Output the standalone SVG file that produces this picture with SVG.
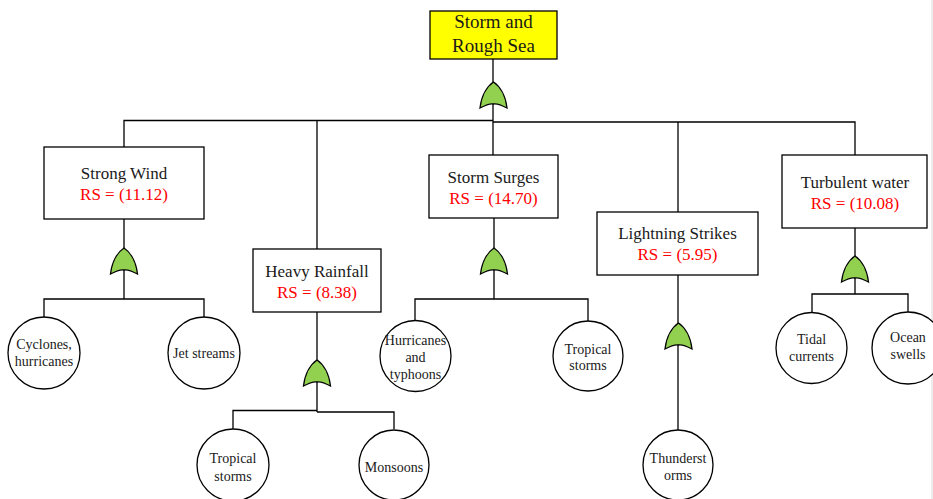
<svg xmlns="http://www.w3.org/2000/svg" xmlns:xlink="http://www.w3.org/1999/xlink" width="933" height="499" viewBox="0 0 933 499">
  <style>
    .box { fill: #ffffff; stroke: #000000; stroke-width: 1.3; }
    .top { fill: #ffff00; stroke: #000000; stroke-width: 1.3; }
    .ev { fill: #ffffff; stroke: #000000; stroke-width: 1.3; }
    .wire { fill: none; stroke: #000000; stroke-width: 1.3; }
    text { font-family: "Liberation Serif", "Times New Roman", serif; text-anchor: middle; fill: #1a1a1a; }
    .t19 { font-size: 19px; }
    .t17 { font-size: 17px; }
    .rs { font-size: 17px; fill: #ff0000; }
    .t14 { font-size: 14px; }
  </style>
  <defs>
    <!-- OR gate, origin at the apex -->
    <path id="orgate" d="M0,0 C6,4 12,13 13.5,26 Q4,21 0,22 Q-4,21 -13.5,26 C-12,13 -6,4 0,0 Z" fill="#92d050" stroke="#000000" stroke-width="1.3"/>
  </defs>

  <rect x="0" y="0" width="933" height="499" fill="#ffffff"/>
  <rect x="931" y="0" width="2" height="499" fill="#ececec"/>

  <g id="connectors">
    <!-- top event to bus -->
    <path class="wire" d="M493,59 V121"/>
    <path class="wire" d="M124,147 V120.5 H493 M493,122 H855 V155"/>
    <path class="wire" d="M317,121 V249"/>
    <path class="wire" d="M678,122 V212"/>
    <path class="wire" d="M493,121 V155"/>
    <!-- Strong Wind -->
    <path class="wire" d="M124,219 V299 M44,317 V299 H204 V317"/>
    <!-- Heavy Rainfall -->
    <path class="wire" d="M317,312 V412 M233,429 V410.5 H317 M317,412 H394 V429"/>
    <!-- Storm Surges -->
    <path class="wire" d="M494,218 V299 M415,321 V299 H588 V321"/>
    <!-- Lightning Strikes -->
    <path class="wire" d="M678,275 V430"/>
    <!-- Turbulent water -->
    <path class="wire" d="M855,228 V294 M812,312 V294 H908 V312"/>
  </g>

  <g id="gates">
    <use xlink:href="#orgate" transform="translate(493.5,82)"/>
    <use xlink:href="#orgate" transform="translate(124,248)"/>
    <use xlink:href="#orgate" transform="translate(317,360)"/>
    <use xlink:href="#orgate" transform="translate(494,248)"/>
    <use xlink:href="#orgate" transform="translate(678.5,323)"/>
    <use xlink:href="#orgate" transform="translate(855,256)"/>
  </g>

  <g id="storm-rough-sea">
    <rect class="top" x="430" y="11" width="127" height="48"/>
    <text class="t19" x="493.5" y="28">Storm and</text>
    <text class="t19" x="493.5" y="52">Rough Sea</text>
  </g>

  <g id="strong-wind">
    <rect class="box" x="44" y="147" width="160" height="72"/>
    <text class="t17" x="124" y="179">Strong Wind</text>
    <text class="rs" x="124" y="200">RS = (11.12)</text>
  </g>

  <g id="heavy-rainfall">
    <rect class="box" x="253" y="249" width="128" height="63"/>
    <text class="t17" x="317" y="277">Heavy Rainfall</text>
    <text class="rs" x="317" y="298">RS = (8.38)</text>
  </g>

  <g id="storm-surges">
    <rect class="box" x="429" y="155" width="129" height="63"/>
    <text class="t17" x="493.5" y="183">Storm Surges</text>
    <text class="rs" x="493.5" y="204">RS = (14.70)</text>
  </g>

  <g id="lightning-strikes">
    <rect class="box" x="597" y="212" width="161" height="63"/>
    <text class="t17" x="677.5" y="239">Lightning Strikes</text>
    <text class="rs" x="677.5" y="260">RS = (5.95)</text>
  </g>

  <g id="turbulent-water">
    <rect class="box" x="782" y="155" width="145" height="73"/>
    <text class="t17" x="855" y="188">Turbulent water</text>
    <text class="rs" x="855" y="209">RS = (10.08)</text>
  </g>

  <g id="cyclones-hurricanes">
    <circle class="ev" cx="44" cy="353" r="36"/>
    <text class="t14" x="44" y="349">Cyclones,</text>
    <text class="t14" x="44" y="366">hurricanes</text>
  </g>

  <g id="jet-streams">
    <circle class="ev" cx="204" cy="353" r="36"/>
    <text class="t14" x="204" y="358">Jet streams</text>
  </g>

  <g id="tropical-storms-rain">
    <circle class="ev" cx="233" cy="465" r="36"/>
    <text class="t14" x="233" y="463">Tropical</text>
    <text class="t14" x="233" y="481">storms</text>
  </g>

  <g id="monsoons">
    <circle class="ev" cx="394" cy="465" r="35"/>
    <text class="t14" x="394" y="472">Monsoons</text>
  </g>

  <g id="hurricanes-typhoons">
    <circle class="ev" cx="415.5" cy="356" r="35.5"/>
    <text class="t14" x="415.5" y="345">Hurricanes</text>
    <text class="t14" x="415.5" y="362">and</text>
    <text class="t14" x="415.5" y="379">typhoons</text>
  </g>

  <g id="tropical-storms-surge">
    <circle class="ev" cx="588" cy="356" r="35"/>
    <text class="t14" x="588" y="354">Tropical</text>
    <text class="t14" x="588" y="370">storms</text>
  </g>

  <g id="thunderstorms">
    <circle class="ev" cx="678" cy="465" r="35"/>
    <text class="t14" x="678" y="463">Thunderst</text>
    <text class="t14" x="678" y="480">orms</text>
  </g>

  <g id="tidal-currents">
    <circle class="ev" cx="811.5" cy="348" r="35.5"/>
    <text class="t14" x="811.5" y="344">Tidal</text>
    <text class="t14" x="811.5" y="361">currents</text>
  </g>

  <g id="ocean-swells">
    <circle class="ev" cx="908" cy="348" r="36"/>
    <text class="t14" x="908" y="342">Ocean</text>
    <text class="t14" x="908" y="359">swells</text>
  </g>
</svg>
